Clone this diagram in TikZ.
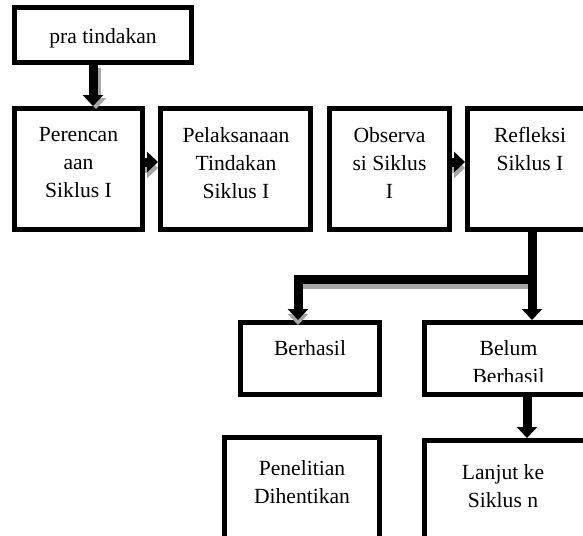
\documentclass[tikz,border=0pt]{standalone}
\usepackage{fontspec}
\setmainfont{Liberation Serif}
\usetikzlibrary{arrows.meta}
\begin{document}
\begin{tikzpicture}[x=1pt,y=-1pt,
  box/.style={draw=black, line width=5pt, inner sep=0pt},
  txt/.style={font=\fontsize{21.6}{28}\selectfont, align=center, inner sep=0pt, anchor=north},
  arr/.style={line width=9pt, line join=miter, -{Triangle[width=20pt,length=11pt]}},
  shad/.style={preaction={draw=black!35, line width=9pt, -{Triangle[width=20pt,length=11pt]}, transform canvas={shift={(#1)}}}}
]
\useasboundingbox (0,0) rectangle (583,535);

% boxes
\node[box, minimum width=177pt, minimum height=55pt] (pra) at (103,35) {};
\node[box, minimum width=128pt, minimum height=121pt] (perenc) at (78.5,169) {};
\node[box, minimum width=150pt, minimum height=121pt] (pelaks) at (235.5,169) {};
\node[box, minimum width=120pt, minimum height=121pt] (obs) at (389.5,169) {};
\node[box, minimum width=125pt, minimum height=121pt] (refl) at (530,169) {};
\node[box, minimum width=139pt, minimum height=72pt] (berh) at (310,358.5) {};
\node[box, minimum width=168pt, minimum height=72pt] (belum) at (508.5,358.5) {};
\node[box, minimum width=155pt, minimum height=122.5pt] (penel) at (302,498.75) {};
\node[box, minimum width=168pt, minimum height=119.5pt] (lanjut) at (508.5,500.25) {};

% texts
\node[font=\fontsize{21.6}{28}\selectfont, inner sep=0pt, anchor=base] (tpra) at (103,44) {pra tindakan};
\node[txt] (tperenc) at (78.5,127.3) {Perencan\\aan\\Siklus I};
\node[txt] (tpelaks) at (236,127.3) {Pelaksanaan\\Tindakan\\Siklus I};
\node[txt] (tobs) at (389.5,127.3) {Observa\\si Siklus\\I};
\node[txt] (trefl) at (530,127.3) {Refleksi\\Siklus I};
\node[txt] (tberh) at (310,340.3) {Berhasil};
\begin{scope}
  \clip (424.5,322.5) rectangle (592.5,381);
  \node[txt] (tbelum) at (508.5,340.3) {Belum\\Berhasil};
\end{scope}
\node[txt] (tpenel) at (302,460.3) {Penelitian\\Dihentikan};
\node[txt] (tlanjut) at (503,464.3) {Lanjut ke\\Siklus n};

% connectors
\coordinate (p1) at ([xshift=-10pt]pra.south);
\draw[arr, shad={3,3}] (p1) -- (p1 |- perenc.north);
\coordinate (p2) at ([yshift=7pt]perenc.east);
\draw[arr, shad={0,6}] (p2) -- (p2 -| pelaks.west);
\coordinate (p3) at ([yshift=7pt]obs.east);
\draw[arr, shad={0,6}] (p3) -- (p3 -| refl.west);
\coordinate (rs) at ([xshift=2pt]refl.south);
\coordinate (jL) at (298,279);
\coordinate (jR) at (532,279);
\draw[arr, shad={0,5}] (rs) |- (jL) -- (jL |- berh.north);
\draw[arr] (rs) -- (jR) -- (jR |- belum.north);
\coordinate (bl) at ([xshift=18.5pt]belum.south);
\draw[arr] (bl) -- (bl |- lanjut.north);
\end{tikzpicture}
\end{document}
